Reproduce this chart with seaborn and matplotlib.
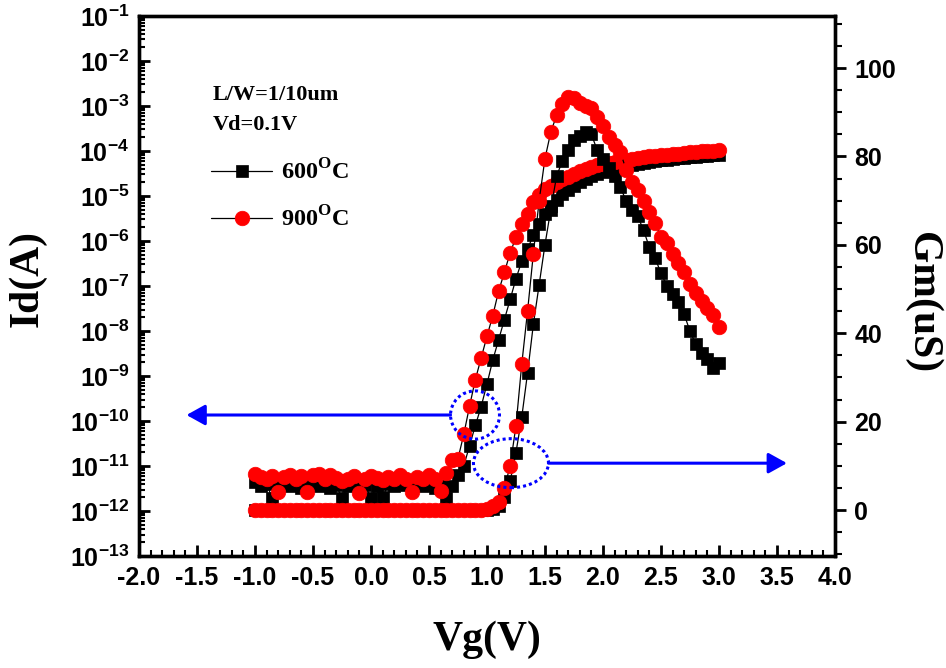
import numpy as np
import pandas as pd
import matplotlib
matplotlib.use("Agg")
import matplotlib.pyplot as plt
from matplotlib.patches import Ellipse
from matplotlib.ticker import FuncFormatter, MultipleLocator, LogLocator, NullFormatter
import seaborn as sns

# Gate sweep: -1 V to 3 V in 50 mV steps
vg = np.round(np.linspace(-1.0, 3.0, 81), 2)

# log10 of drain current (A)
id_600_log = [
    -11.35, -11.45, -11.40, -11.72, -11.45, -11.38, -11.45, -11.40, -11.50, -11.42,
    -11.38, -11.45, -11.40, -11.50, -11.42, -11.72, -11.45, -11.40, -11.48, -11.42,
    -11.72, -11.45, -11.70, -11.40, -11.45, -11.38, -11.42, -11.48, -11.40, -11.45,
    -11.42, -11.48, -11.45,
    -11.72, -11.45, -11.20, -11.00, -10.55, -10.10, -9.68,
    -9.18, -8.65, -8.20, -7.75, -7.30, -6.84, -6.45, -6.18, -5.87, -5.63,
    -5.39, -5.22, -5.08, -4.96, -4.86, -4.77, -4.69, -4.62, -4.56, -4.51,
    -4.46, -4.42, -4.39, -4.36, -4.33, -4.31, -4.28, -4.26, -4.24, -4.22,
    -4.20, -4.19, -4.17, -4.16, -4.15, -4.14, -4.13, -4.12, -4.11, -4.10,
    -4.09,
]
id_900_log = [
    -11.18, -11.25, -11.30, -11.22, -11.58, -11.24, -11.20, -11.28, -11.22, -11.58,
    -11.20, -11.18, -11.30, -11.20, -11.26, -11.33, -11.28, -11.22, -11.60, -11.30,
    -11.22, -11.26, -11.32, -11.24, -11.30, -11.20, -11.28, -11.58, -11.25, -11.30,
    -11.20, -11.28,
    -11.55, -11.15, -10.86, -10.84, -10.30, -9.67, -9.08, -8.60,
    -8.12, -7.66, -7.12, -6.70, -6.26, -5.92, -5.62, -5.40, -5.14, -4.97,
    -4.85, -4.77, -4.70, -4.63, -4.57, -4.51, -4.45, -4.40, -4.36, -4.32,
    -4.29, -4.27, -4.24, -4.22, -4.20, -4.18, -4.16, -4.14, -4.12, -4.11,
    -4.10, -4.08, -4.07, -4.06, -4.04, -4.03, -4.02, -4.01, -4.00, -3.99,
    -3.98,
]

# Transconductance (uS); zero below 1.0 V
gm_600 = [0.0] * 40 + [
    0.0, 0.2, 0.8, 3.0, 6.5, 13.0, 21.0, 31.0, 42.0, 51.0,
    60.0, 68.0, 75.5, 79.0, 81.5, 83.7, 84.6, 85.5, 85.0, 81.5,
    79.5, 77.5, 75.5, 73.0, 70.0, 68.0, 66.5, 63.3, 59.5, 57.0,
    53.6, 50.8, 48.8, 47.0, 44.3, 40.5, 37.5, 35.5, 34.2, 32.1,
    33.3,
]
gm_900 = [0.0] * 40 + [
    0.3, 0.8, 1.8, 5.0, 10.0, 19.0, 33.0, 45.0, 58.0, 70.0,
    79.5, 85.5, 89.3, 91.8, 93.5, 93.2, 92.2, 91.5, 91.0, 89.0,
    87.0, 84.5, 82.5, 81.0, 77.0, 74.3, 72.5, 70.0, 67.4, 64.9,
    61.8, 60.5, 58.0, 56.0, 53.8, 51.2, 49.0, 47.3, 45.8, 44.2,
    41.5,
]

series_labels = [r"600$^{\mathrm{O}}$C", r"900$^{\mathrm{O}}$C"]
x_ticks = [-2.0, -1.5, -1.0, -0.5, 0.0, 0.5, 1.0, 1.5, 2.0, 2.5, 3.0, 3.5, 4.0]
id_decades = list(range(-13, 0))
gm_ticks = [0, 20, 40, 60, 80, 100]

df = pd.DataFrame({
    "Vg": vg,
    "Id600": 10.0 ** np.array(id_600_log),
    "Id900": 10.0 ** np.array(id_900_log),
    "Gm600": gm_600,
    "Gm900": gm_900,
})

sns.set_style("ticks")
plt.rcParams["font.family"] = ["Liberation Sans", "DejaVu Sans"]
plt.rcParams["font.weight"] = "bold"
plt.rcParams["mathtext.fontset"] = "custom"
plt.rcParams["mathtext.bf"] = "Liberation Sans:bold"
plt.rcParams["mathtext.rm"] = "Liberation Serif:bold"
for key in ("text.color", "axes.labelcolor", "axes.edgecolor", "xtick.color", "ytick.color"):
    plt.rcParams[key] = "black"

fig = plt.figure(figsize=(9.46, 6.68), dpi=100)
ax = fig.add_axes([0.1469, 0.1677, 0.7357, 0.8084])
ax2 = ax.twinx()

sq = dict(marker="s", markersize=9, markerfacecolor="black", markeredgecolor="black",
          markeredgewidth=0.5)
ci = dict(marker="o", markersize=10.5, markerfacecolor="red", markeredgecolor="red",
          markeredgewidth=0.5)

sns.lineplot(data=df, x="Vg", y="Id600", ax=ax, color="black", linewidth=0.9,
             estimator=None, label=series_labels[0], **sq)
sns.lineplot(data=df, x="Vg", y="Id900", ax=ax, color="black", linewidth=0.9,
             estimator=None, label=series_labels[1], **ci)
sns.lineplot(data=df, x="Vg", y="Gm600", ax=ax2, color="black", linewidth=0.9,
             estimator=None, legend=False, **sq)
sns.lineplot(data=df, x="Vg", y="Gm900", ax=ax2, color="black", linewidth=0.9,
             estimator=None, legend=False, **ci)

# Left axis: drain current, log scale
ax.set_yscale("log")
ax.set_ylim(1e-13, 1e-1)
ax.set_yticks([10.0 ** e for e in id_decades])
ax.yaxis.set_minor_locator(LogLocator(base=10, subs=np.arange(2, 10), numticks=100))
ax.yaxis.set_minor_formatter(NullFormatter())
ax.yaxis.set_major_formatter(FuncFormatter(
    lambda v, p: r"$\mathbf{10^{%d}}$" % int(round(np.log10(v)))))

ax.set_xlim(-2.0, 4.0)
ax.set_xticks(x_ticks)
ax.xaxis.set_minor_locator(MultipleLocator(0.1))
ax.xaxis.set_major_formatter(FuncFormatter(lambda v, p: "%.1f" % v))

# Right axis: transconductance
ax2.set_ylim(-10.4, 111.8)
ax2.set_yticks(gm_ticks)
ax2.yaxis.set_minor_locator(MultipleLocator(5))

for a in (ax, ax2):
    for s in a.spines.values():
        s.set_linewidth(2.4)
        s.set_edgecolor("black")
        s.set_visible(True)

ax.tick_params(axis="y", which="major", direction="in", length=8, width=2,
               right=False, labelsize=18, pad=7, colors="black")
ax.tick_params(axis="y", which="minor", direction="in", length=4, width=1.5,
               right=False, colors="black")
ax.tick_params(axis="x", which="major", direction="in", length=8, width=2,
               top=False, labelsize=18, pad=7, colors="black")
ax.tick_params(axis="x", which="minor", direction="in", length=4, width=1.5,
               top=False, colors="black")
ax2.tick_params(axis="y", which="major", direction="out", length=8, width=2,
                labelsize=18, pad=6, colors="black")
ax2.tick_params(axis="y", which="minor", direction="out", length=5, width=1.5,
                colors="black")

lab = dict(fontfamily="Liberation Serif", fontweight="bold", fontsize=30, color="black")
ax.set_xlabel("Vg(V)", **lab)
ax.set_ylabel("Id(A)", **lab)
ax2.set_ylabel("Gm(uS)", rotation=270, **lab)
ax.xaxis.set_label_coords(0.5, -0.155)
ax.xaxis.label.set_va("center")
ax.yaxis.set_label_coords(-0.16, 0.513)
ax.yaxis.label.set_va("center")
ax2.yaxis.set_label_coords(1.126, 0.47)
ax2.yaxis.label.set_va("center")

# Device conditions
note = dict(fontfamily="Liberation Serif", fontweight="bold", fontsize=16,
            transform=ax.transAxes, va="baseline", ha="left", color="black")
ax.text(0.106, 0.844, "L/W=1/10um", **note)
ax.text(0.106, 0.789, "Vd=0.1V", **note)

handles, labels = ax.get_legend_handles_labels()
leg = ax.legend(handles, labels, loc="upper left", bbox_to_anchor=(0.104, 0.735),
                frameon=False, borderpad=0, borderaxespad=0, handlelength=2.5,
                handletextpad=0.35, labelspacing=0.9, numpoints=1,
                prop=dict(family="Liberation Serif", weight="bold", size=17.5))
for t in leg.get_texts():
    t.set_color("black")

# Circles marking the curves and arrows pointing to their axes
dots = dict(fill=False, edgecolor="blue", linewidth=2.2, linestyle=(0, (1, 1)), zorder=5)
ax2.add_patch(Ellipse((0.897, 21.5), 0.422, 10.9, **dots))
ax2.add_patch(Ellipse((1.207, 10.6), 0.647, 11.1, **dots))
arrow = dict(arrowstyle="-|>,head_length=0.45,head_width=0.25", color="blue",
             lw=2.2, mutation_scale=25, shrinkA=0, shrinkB=0)
ax2.annotate("", xy=(-1.59, 21.5), xytext=(0.686, 21.5), arrowprops=arrow, zorder=5)
ax2.annotate("", xy=(3.586, 10.6), xytext=(1.53, 10.6), arrowprops=arrow, zorder=5)

fig.savefig("out.png", dpi=100, facecolor="white")
